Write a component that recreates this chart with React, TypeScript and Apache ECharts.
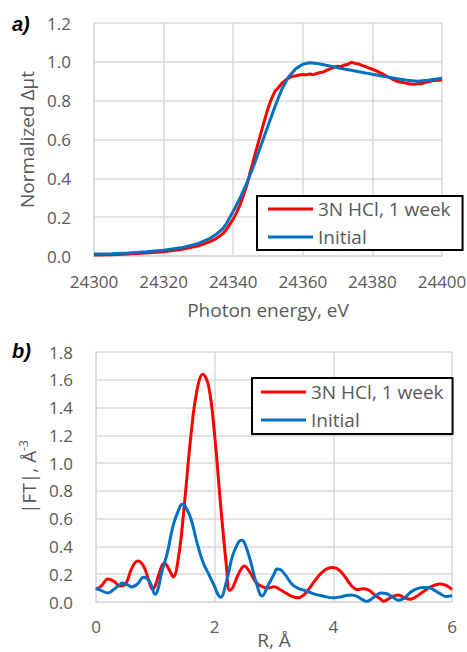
import React, { useEffect, useRef } from "react";
import * as echarts from "echarts";

const NAME_A = "3N HCl, 1 week";
const NAME_B = "Initial";

// Panel a) XANES
const energyRed = [24300, 24305, 24310, 24315, 24320, 24325, 24330, 24333, 24335, 24337, 24338, 24340, 24341, 24342, 24343, 24344, 24345, 24346, 24347, 24348, 24349, 24350, 24351, 24352, 24353, 24354, 24355, 24356, 24357, 24358, 24359, 24360, 24361, 24362, 24363, 24364, 24365, 24366, 24367, 24368, 24369, 24370, 24371, 24372, 24373, 24374, 24375, 24376, 24377, 24378, 24379, 24380, 24381, 24382, 24383, 24384, 24385, 24386, 24387, 24388, 24389, 24390, 24391, 24392, 24393, 24394, 24395, 24396, 24397, 24398, 24399, 24400];
const muRed = [0.005, 0.007, 0.01, 0.015, 0.022, 0.033, 0.052, 0.072, 0.088, 0.115, 0.135, 0.19, 0.225, 0.265, 0.315, 0.37, 0.44, 0.505, 0.57, 0.635, 0.7, 0.76, 0.81, 0.848, 0.868, 0.89, 0.905, 0.918, 0.925, 0.928, 0.932, 0.935, 0.933, 0.937, 0.934, 0.94, 0.945, 0.948, 0.958, 0.965, 0.972, 0.978, 0.975, 0.984, 0.988, 0.998, 0.992, 0.99, 0.982, 0.976, 0.968, 0.962, 0.955, 0.946, 0.938, 0.926, 0.918, 0.908, 0.9, 0.896, 0.892, 0.889, 0.886, 0.884, 0.888, 0.887, 0.893, 0.897, 0.902, 0.904, 0.906, 0.905];

const energyBlue = [24300, 24305, 24310, 24315, 24320, 24325, 24330, 24333, 24335, 24337, 24338, 24340, 24342, 24344, 24346, 24348, 24350, 24352, 24354, 24356, 24358, 24360, 24362, 24364, 24366, 24368, 24370, 24372, 24375, 24378, 24380, 24383, 24385, 24388, 24390, 24393, 24396, 24400];
const muBlue = [0.01, 0.012, 0.016, 0.022, 0.03, 0.042, 0.065, 0.088, 0.11, 0.14, 0.165, 0.23, 0.3, 0.38, 0.47, 0.57, 0.67, 0.77, 0.86, 0.925, 0.965, 0.988, 0.995, 0.992, 0.985, 0.978, 0.97, 0.963, 0.953, 0.943, 0.936, 0.926, 0.92, 0.91, 0.905, 0.9, 0.905, 0.915];

// Panel b) FT
const rRed = [0, 0.1, 0.2, 0.3, 0.4, 0.5, 0.6, 0.7, 0.8, 0.9, 0.95, 1.0, 1.1, 1.15, 1.25, 1.3, 1.4, 1.5, 1.6, 1.7, 1.8, 1.9, 2.0, 2.1, 2.2, 2.25, 2.3, 2.4, 2.5, 2.6, 2.7, 2.8, 2.9, 3.0, 3.1, 3.2, 3.3, 3.4, 3.5, 3.6, 3.7, 3.8, 3.9, 4.0, 4.1, 4.2, 4.3, 4.4, 4.5, 4.6, 4.7, 4.8, 4.85, 4.9, 5.0, 5.1, 5.2, 5.3, 5.4, 5.5, 5.6, 5.7, 5.8, 5.9, 6.0];
const ftRed = [0.09, 0.12, 0.166, 0.15, 0.115, 0.13, 0.24, 0.296, 0.26, 0.14, 0.094, 0.12, 0.25, 0.28, 0.22, 0.18, 0.35, 0.75, 1.2, 1.52, 1.64, 1.55, 1.2, 0.7, 0.25, 0.085, 0.1, 0.2, 0.26, 0.21, 0.14, 0.11, 0.1, 0.11, 0.09, 0.065, 0.04, 0.03, 0.05, 0.1, 0.16, 0.21, 0.24, 0.248, 0.23, 0.18, 0.12, 0.09, 0.095, 0.085, 0.05, 0.02, 0.005, 0.015, 0.04, 0.05, 0.03, 0.02, 0.04, 0.07, 0.1, 0.12, 0.13, 0.12, 0.09];

const rBlue = [0, 0.1, 0.2, 0.3, 0.4, 0.45, 0.55, 0.6, 0.7, 0.8, 0.9, 1.0, 1.05, 1.1, 1.2, 1.3, 1.4, 1.45, 1.5, 1.6, 1.7, 1.8, 1.9, 2.0, 2.05, 2.1, 2.2, 2.3, 2.4, 2.45, 2.5, 2.6, 2.7, 2.8, 2.9, 3.0, 3.05, 3.1, 3.2, 3.3, 3.4, 3.5, 3.6, 3.7, 3.8, 3.9, 4.0, 4.1, 4.2, 4.3, 4.4, 4.5, 4.55, 4.6, 4.7, 4.8, 4.9, 5.0, 5.1, 5.2, 5.3, 5.4, 5.5, 5.6, 5.7, 5.8, 5.9, 6.0];
const ftBlue = [0.1, 0.08, 0.065, 0.09, 0.125, 0.137, 0.12, 0.108, 0.13, 0.178, 0.15, 0.055, 0.1, 0.2, 0.35, 0.55, 0.67, 0.703, 0.69, 0.6, 0.43, 0.29, 0.2, 0.11, 0.06, 0.034, 0.15, 0.33, 0.43, 0.445, 0.43, 0.3, 0.14, 0.043, 0.12, 0.2, 0.238, 0.235, 0.19, 0.13, 0.1, 0.085, 0.07, 0.055, 0.045, 0.035, 0.031, 0.035, 0.045, 0.05, 0.04, 0.015, 0.005, 0.01, 0.04, 0.065, 0.06, 0.035, 0.012, 0.03, 0.07, 0.095, 0.105, 0.105, 0.085, 0.06, 0.04, 0.045];

const RED = "#FF0000";
const BLUE = "#0070C0";
const GRID = "#D9D9D9";
const LABEL = "#595959";
const FONT = "'Open Sans', sans-serif";

const zip = (xs: number[], ys: number[]) => xs.map((x, i) => [x, ys[i]]);

export default function App() {
  const ref = useRef<HTMLDivElement>(null);
  useEffect(() => {
    if (!ref.current) return;
    const chart = echarts.init(ref.current, undefined, { renderer: "svg" });
    const axisCommon = {
      axisLine: { show: true, lineStyle: { color: GRID, width: 1.5 } },
      axisTick: { show: false },
      splitLine: { show: true, lineStyle: { color: GRID, width: 1.5 } },
      axisLabel: { color: LABEL, fontFamily: FONT, fontSize: 17 },
      nameTextStyle: { color: LABEL, fontFamily: FONT, fontSize: 19 },
    };
    const legendCommon = {
      orient: "vertical" as const,
      data: [
        { name: NAME_A, icon: "rect", itemStyle: { color: RED } },
        { name: NAME_B, icon: "rect", itemStyle: { color: BLUE } },
      ],
      borderColor: "#000",
      borderWidth: 2,
      itemWidth: 45,
      itemHeight: 3,
      itemGap: 8,
      backgroundColor: "#fff",
      textStyle: { color: LABEL, fontFamily: FONT, fontSize: 19, lineHeight: 20 },
      borderRadius: 0,
    };
    chart.setOption({
      animation: false,
      grid: [
        { left: 94, top: 23, width: 348, height: 233, outerBoundsMode: "none" },
        { left: 96, top: 352, width: 356, height: 250, outerBoundsMode: "none" },
      ],
      xAxis: [
        {
          ...axisCommon,
          gridIndex: 0,
          type: "value",
          min: 24300,
          max: 24400,
          interval: 20,
          axisLabel: { ...axisCommon.axisLabel, margin: 17, formatter: (v: number) => String(v) },
          name: "Photon energy, eV",
          nameLocation: "middle",
          nameGap: 44,
        },
        {
          ...axisCommon,
          gridIndex: 1,
          type: "value",
          min: 0,
          max: 6,
          interval: 2,
          axisLabel: { ...axisCommon.axisLabel, margin: 16 },
          name: "R, Å",
          nameLocation: "middle",
          nameGap: 27,
          nameMoveOverlap: false,
          nameTextStyle: { ...axisCommon.nameTextStyle, lineHeight: 22 },
        },
      ],
      yAxis: [
        {
          ...axisCommon,
          gridIndex: 0,
          type: "value",
          min: 0,
          max: 1.2,
          interval: 0.2,
          axisLabel: { ...axisCommon.axisLabel, margin: 23, formatter: (v: number) => v.toFixed(1) },
          name: "Normalized Δμt",
          nameLocation: "middle",
          nameGap: 56,
        },
        {
          ...axisCommon,
          gridIndex: 1,
          type: "value",
          min: 0,
          max: 1.8,
          interval: 0.2,
          axisLabel: { ...axisCommon.axisLabel, margin: 23, formatter: (v: number) => v.toFixed(1) },
          name: "{a||FT|, Å}{s|-3}",
          nameLocation: "middle",
          nameGap: 56,
          nameTextStyle: {
            ...axisCommon.nameTextStyle,
            rich: {
              a: { color: LABEL, fontFamily: FONT, fontSize: 19, lineHeight: 22 },
              s: { color: LABEL, fontFamily: FONT, fontSize: 12, verticalAlign: "top", lineHeight: 22 },
            },
          },
        },
      ],
      legend: [
        { ...legendCommon, left: 257, top: 196, padding: [3, 12, 3, 11] },
        { ...legendCommon, left: 252, top: 378, padding: [4, 9, 4, 9] },
      ],
      graphic: [
        { type: "text", left: 12, top: 14, style: { text: "a)", font: "italic bold 20px 'Liberation Sans', Arial, sans-serif", fill: "#000" } },
        { type: "text", left: 12, top: 341, style: { text: "b)", font: "italic bold 20px 'Liberation Sans', Arial, sans-serif", fill: "#000" } },
      ],
      series: [
        {
          name: NAME_A, type: "line", xAxisIndex: 0, yAxisIndex: 0, data: zip(energyRed, muRed),
          showSymbol: false, symbol: "none", lineStyle: { color: RED, width: 3 }, itemStyle: { color: RED }, z: 2,
        },
        {
          name: NAME_B, type: "line", xAxisIndex: 0, yAxisIndex: 0, data: zip(energyBlue, muBlue),
          showSymbol: false, symbol: "none", lineStyle: { color: BLUE, width: 3 }, itemStyle: { color: BLUE }, z: 3,
        },
        {
          name: NAME_A, type: "line", xAxisIndex: 1, yAxisIndex: 1, data: zip(rRed, ftRed), smooth: 0.4,
          showSymbol: false, symbol: "none", lineStyle: { color: RED, width: 3 }, itemStyle: { color: RED }, z: 2,
        },
        {
          name: NAME_B, type: "line", xAxisIndex: 1, yAxisIndex: 1, data: zip(rBlue, ftBlue), smooth: 0.4,
          showSymbol: false, symbol: "none", lineStyle: { color: BLUE, width: 3 }, itemStyle: { color: BLUE }, z: 3,
        },
      ],
    });
    return () => chart.dispose();
  }, []);
  return <div ref={ref} style={{ width: 467, height: 652, position: "absolute", left: 0, top: 0 }} />;
}
